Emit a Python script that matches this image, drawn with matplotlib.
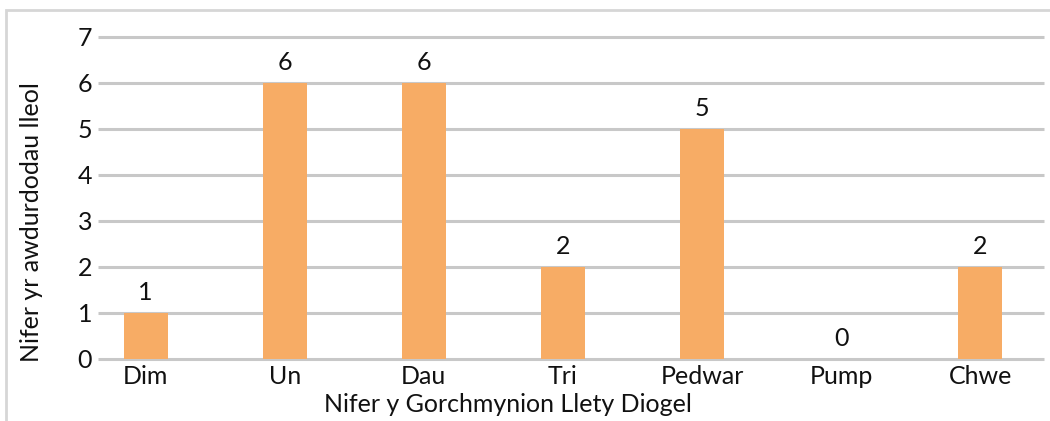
import matplotlib.pyplot as plt
from matplotlib.patches import Rectangle

categories = ["Dim", "Un", "Dau", "Tri", "Pedwar", "Pump", "Chwe"]
values = [1, 6, 6, 2, 5, 0, 2]

plt.rcParams["font.family"] = ["Lato", "DejaVu Sans"]
W, H = 1050, 421

fig = plt.figure(figsize=(W / 100, H / 100), dpi=100)
# axes spans the category bands; gridlines drawn over a narrower range
ax = fig.add_axes([76 / W, 1 - 359 / H, (1050 - 76) / W, (359 - 37) / H])

# light frame round the chart (cut off right and bottom)
fig.patches.append(Rectangle((6 / W, -0.1), 1.2, 1 - 10 / H + 0.1,
                             transform=fig.transFigure, fill=False,
                             edgecolor="#D6D6D6", linewidth=2))

x = list(range(len(categories)))
ax.bar(x, values, width=0.316, color="#F7AC65", zorder=3)
for xi, v in zip(x, values):
    ax.text(xi, v + 0.2, str(v), ha="center", va="bottom", fontsize=18, color="#111111")

ax.set_ylim(0, 7)
ax.set_xlim(-0.5, len(categories) - 0.5)
ax.set_yticks(range(8))
ax.hlines(range(8), -0.342, 6.46, color="#C8C8C8", linewidth=2.2, zorder=1, clip_on=False)
ax.tick_params(axis="both", length=0, labelsize=18, colors="#111111")
ax.tick_params(axis="y", pad=-11.5)
ax.tick_params(axis="x", pad=4)
ax.set_xticks(x)
ax.set_xticklabels(categories)
for s in ax.spines.values():
    s.set_visible(False)

fig.text(508 / W, 1 - 405 / H, "Nifer y Gorchmynion Llety Diogel", fontsize=18,
         ha="center", va="center", color="#111111")
fig.text(32 / W, 1 - 222 / H, "Nifer yr awdurdodau lleol", fontsize=18, rotation=90,
         ha="center", va="center", color="#111111")

fig.savefig("out.png", dpi=100)
